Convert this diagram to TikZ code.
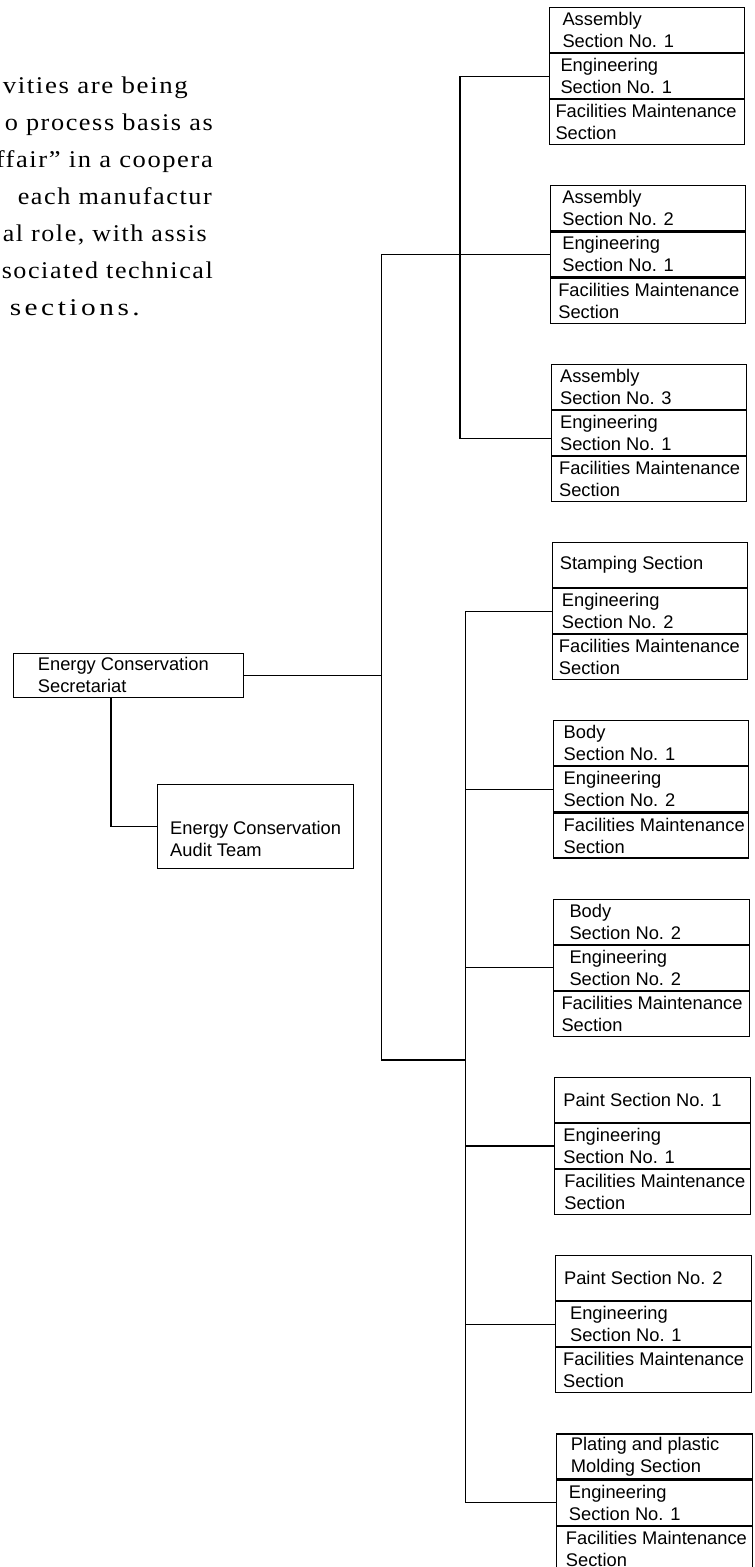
\documentclass[tikz,border=0pt]{standalone}
\usepackage{fontspec}
\usepackage{graphicx}
\setmainfont{Liberation Serif}
\newfontfamily\labelfont{Liberation Sans}
\newfontfamily\prosefont[LetterSpace=6]{Liberation Serif}
\newfontfamily\prosewide[LetterSpace=12]{Liberation Serif}

\tikzset{
  secbox/.style={draw=black, line width=1.1pt, inner sep=0pt, anchor=north west,
                 minimum height=45pt},
  plainbox/.style={draw=black, line width=1.1pt, inner sep=0pt, anchor=north west},
  boxtext/.style={anchor=west, inner sep=0pt, align=left,
                  font=\labelfont\fontsize{18.3}{22}\selectfont},
  wire/.style={draw=black, line width=1.1pt},
  prose/.style={anchor=base east, inner sep=0pt,
                font=\prosefont\fontsize{24}{37}\selectfont},
}

% one section unit: three stacked boxes
% #1 name, #2 left x, #3 top y, #4 width, #5 first text, #6 second text,
% #7 #8 #9 text insets of the three boxes
\newcommand{\unitgroup}[9]{%
  \node[secbox, minimum width=#4pt] (#1a) at (#2,#3) {};
  \node[secbox, minimum width=#4pt] (#1b) at (#1a.south west) {};
  \node[secbox, minimum width=#4pt] (#1c) at (#1b.south west) {};
  \node[boxtext] (#1at) at ([xshift=#7pt]#1a.west) {#5};
  \node[boxtext] (#1bt) at ([xshift=#8pt]#1b.west) {#6};
  \node[boxtext] (#1ct) at ([xshift=#9pt]#1c.west) {Facilities Maintenance\\Section};
}

\begin{document}
\begin{tikzpicture}[x=1pt,y=-1pt]
\useasboundingbox (0,0) rectangle (755,1567);
\clip (0,0) rectangle (755,1567);
\fill[white] (0,0) rectangle (755,1567);

% running text of the page
\node[prose] (p1) at (188,93)  {\resizebox{185pt}{\height}{vities are being}};
\node[prose] (p2) at (213,130) {\resizebox{208pt}{\height}{o process basis as}};
\node[prose] (p3) at (213,167) {\resizebox{217pt}{\height}{ffair” in a coopera}};
\node[prose] (p4) at (212,204) {\resizebox{194pt}{\height}{each manufactur}};
\node[prose] (p5) at (207,241) {\resizebox{204pt}{\height}{al role, with assis}};
\node[prose] (p6) at (213,278) {\resizebox{211pt}{\height}{sociated technical}};
\node[prose] (p7) at (140,315) {\resizebox{130pt}{\height}{\prosewide sections.}};

% section units
\unitgroup{g1}{549.3}{7}{194.7}{Assembly\\Section No. 1}{Engineering\\Section No. 1}{13}{11}{6}
\unitgroup{g2}{550.1}{185.3}{194.9}{Assembly\\Section No. 2}{Engineering\\Section No. 1}{12}{12}{8}
\unitgroup{g3}{550.9}{363.6}{195.1}{Assembly\\Section No. 3}{Engineering\\Section No. 1}{9}{9}{8}
\unitgroup{g4}{551.7}{541.9}{195.3}{Stamping Section}{Engineering\\Section No. 2}{8}{10}{7}
\unitgroup{g5}{552.5}{720.2}{195.5}{Body\\Section No. 1}{Engineering\\Section No. 2}{11}{11}{11}
\unitgroup{g6}{553.3}{898.5}{195.7}{Body\\Section No. 2}{Engineering\\Section No. 2}{16}{16}{8}
\unitgroup{g7}{554.1}{1076.8}{195.9}{Paint Section No. 1}{Engineering\\Section No. 1}{9}{9}{10}
\unitgroup{g8}{554.9}{1255.1}{196.1}{Paint Section No. 2}{Engineering\\Section No. 1}{9}{15}{8}
\unitgroup{g9}{555.7}{1433.4}{196.3}{Plating and plastic\\Molding Section}{Engineering\\Section No. 1}{15}{13}{10}

% secretariat and audit team
\node[plainbox, minimum width=230pt, minimum height=44pt] (sec) at (12.7,652.7) {};
\node[boxtext] (sect) at ([xshift=25pt]sec.west) {Energy Conservation\\Secretariat};
\node[plainbox, minimum width=196pt, minimum height=83.7pt] (audit) at (157.3,784) {};
\node[boxtext] (auditt) at ([xshift=12.7pt,yshift=-13pt]audit.west) {Energy Conservation\\Audit Team};

% trunk positions
\coordinate (sp) at (381.5,0);
\coordinate (ut) at (460,0);
\coordinate (lt) at (465.5,0);
\coordinate (jl) at (381.5,1060);
\coordinate (g3in) at ([yshift=-6pt]g3b.west);

% connectors
\draw[wire] ([xshift=98.3pt]sec.south west) |- (audit.west);
\draw[wire] (sec.east) -- (sec.east -| sp);
\draw[wire] (g1b.west) -- (g1b.west -| ut) -- (g3in -| ut) -- (g3in);
\draw[wire] (g2b.west) -- (g2b.west -| sp) -- (jl) -- (jl -| lt);
\draw[wire] (g4b.west) -- (g4b.west -| lt) -- (g9b.west -| lt) -- (g9b.west);
\foreach \b in {g5b,g6b,g7b,g8b}
  \draw[wire] (\b.west -| lt) -- (\b.west);
\end{tikzpicture}
\end{document}
